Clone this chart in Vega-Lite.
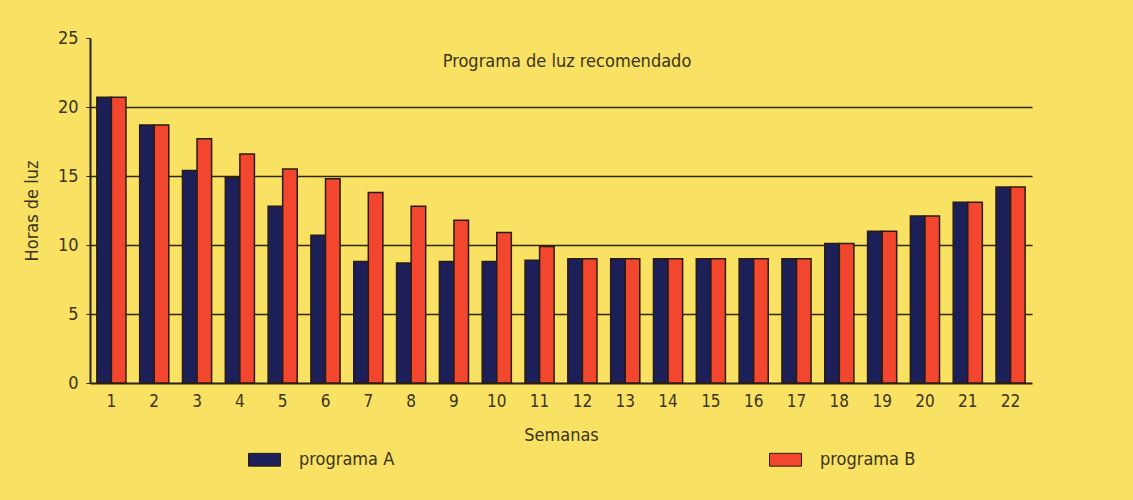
{
  "$schema": "https://vega.github.io/schema/vega-lite/v6.json",
  "width": 942,
  "height": 345,
  "padding": {"left": 90, "top": 38, "right": 101, "bottom": 117},
  "autosize": {"type": "none"},
  "background": "#f8e163",
  "title": {
    "text": "Programa de luz recomendado",
    "orient": "top",
    "anchor": "middle",
    "offset": -42,
    "font": "Liberation Sans Narrow, DejaVu Sans Condensed, sans-serif",
    "fontSize": 18,
    "fontWeight": "normal",
    "color": "#3b3418",
    "dx": 6
  },
  "data": {
    "values": [
      {"semana": 1, "programa": "programa A", "horas": 20.7},
      {"semana": 1, "programa": "programa B", "horas": 20.7},
      {"semana": 2, "programa": "programa A", "horas": 18.7},
      {"semana": 2, "programa": "programa B", "horas": 18.7},
      {"semana": 3, "programa": "programa A", "horas": 15.4},
      {"semana": 3, "programa": "programa B", "horas": 17.7},
      {"semana": 4, "programa": "programa A", "horas": 14.9},
      {"semana": 4, "programa": "programa B", "horas": 16.6},
      {"semana": 5, "programa": "programa A", "horas": 12.8},
      {"semana": 5, "programa": "programa B", "horas": 15.5},
      {"semana": 6, "programa": "programa A", "horas": 10.7},
      {"semana": 6, "programa": "programa B", "horas": 14.8},
      {"semana": 7, "programa": "programa A", "horas": 8.8},
      {"semana": 7, "programa": "programa B", "horas": 13.8},
      {"semana": 8, "programa": "programa A", "horas": 8.7},
      {"semana": 8, "programa": "programa B", "horas": 12.8},
      {"semana": 9, "programa": "programa A", "horas": 8.8},
      {"semana": 9, "programa": "programa B", "horas": 11.8},
      {"semana": 10, "programa": "programa A", "horas": 8.8},
      {"semana": 10, "programa": "programa B", "horas": 10.9},
      {"semana": 11, "programa": "programa A", "horas": 8.9},
      {"semana": 11, "programa": "programa B", "horas": 9.9},
      {"semana": 12, "programa": "programa A", "horas": 9.0},
      {"semana": 12, "programa": "programa B", "horas": 9.0},
      {"semana": 13, "programa": "programa A", "horas": 9.0},
      {"semana": 13, "programa": "programa B", "horas": 9.0},
      {"semana": 14, "programa": "programa A", "horas": 9.0},
      {"semana": 14, "programa": "programa B", "horas": 9.0},
      {"semana": 15, "programa": "programa A", "horas": 9.0},
      {"semana": 15, "programa": "programa B", "horas": 9.0},
      {"semana": 16, "programa": "programa A", "horas": 9.0},
      {"semana": 16, "programa": "programa B", "horas": 9.0},
      {"semana": 17, "programa": "programa A", "horas": 9.0},
      {"semana": 17, "programa": "programa B", "horas": 9.0},
      {"semana": 18, "programa": "programa A", "horas": 10.1},
      {"semana": 18, "programa": "programa B", "horas": 10.1},
      {"semana": 19, "programa": "programa A", "horas": 11.0},
      {"semana": 19, "programa": "programa B", "horas": 11.0},
      {"semana": 20, "programa": "programa A", "horas": 12.1},
      {"semana": 20, "programa": "programa B", "horas": 12.1},
      {"semana": 21, "programa": "programa A", "horas": 13.1},
      {"semana": 21, "programa": "programa B", "horas": 13.1},
      {"semana": 22, "programa": "programa A", "horas": 14.2},
      {"semana": 22, "programa": "programa B", "horas": 14.2}
    ]
  },
  "mark": {"type": "bar", "stroke": "#2a1c10", "strokeWidth": 1.5},
  "encoding": {
    "x": {
      "field": "semana",
      "type": "ordinal",
      "scale": {"paddingInner": 0.32, "paddingOuter": 0.16},
      "axis": {
        "title": "Semanas",
        "titleFont": "Liberation Sans Narrow, DejaVu Sans Condensed, sans-serif",
        "titleFontSize": 18,
        "titleFontWeight": "normal",
        "titleColor": "#3b3418",
        "titlePadding": 17,
        "labelAngle": 0,
        "labelFont": "Liberation Sans Narrow, DejaVu Sans Condensed, sans-serif",
        "labelFontSize": 17,
        "labelColor": "#3b3418",
        "labelPadding": 10,
        "ticks": false,
        "domainColor": "#2a2410",
        "domainWidth": 2
      }
    },
    "xOffset": {"field": "programa", "type": "nominal", "scale": {"paddingInner": 0, "paddingOuter": 0}},
    "y": {
      "field": "horas",
      "type": "quantitative",
      "scale": {"domain": [0, 25], "nice": false},
      "axis": {
        "title": "Horas de luz",
        "titleFont": "Liberation Sans Narrow, DejaVu Sans Condensed, sans-serif",
        "titleFontSize": 18,
        "titleFontWeight": "normal",
        "titleColor": "#3b3418",
        "titlePadding": 16,
        "values": [0, 5, 10, 15, 20, 25],
        "labelFont": "Liberation Sans Narrow, DejaVu Sans Condensed, sans-serif",
        "labelFontSize": 18,
        "labelColor": "#3b3418",
        "labelPadding": 8,
        "tickColor": "#2a2410",
        "tickSize": 4,
        "domainColor": "#2a2410",
        "domainWidth": 2,
        "grid": true,
        "gridColor": "#2e2808",
        "gridWidth": 1.5,
        "gridOpacity": {"condition": {"test": "datum.value == 25 || datum.value == 0", "value": 0}, "value": 1}
      }
    },
    "color": {
      "field": "programa",
      "type": "nominal",
      "scale": {"domain": ["programa A", "programa B"], "range": ["#1d1f58", "#f2472e"]},
      "legend": {
        "title": null,
        "orient": "none",
        "direction": "horizontal",
        "legendX": 158,
        "legendY": 405,
        "columnPadding": 372,
        "symbolType": "M-1,-0.4H1V0.4H-1Z",
        "symbolSize": 1024,
        "symbolStrokeColor": "#2a1c10",
        "symbolStrokeWidth": 1,
        "symbolOpacity": 1,
        "labelOffset": 18,
        "labelFont": "Liberation Sans Narrow, DejaVu Sans Condensed, sans-serif",
        "labelFontSize": 18,
        "labelColor": "#3b3418"
      }
    }
  },
  "config": {
    "view": {"stroke": null}
  }
}
